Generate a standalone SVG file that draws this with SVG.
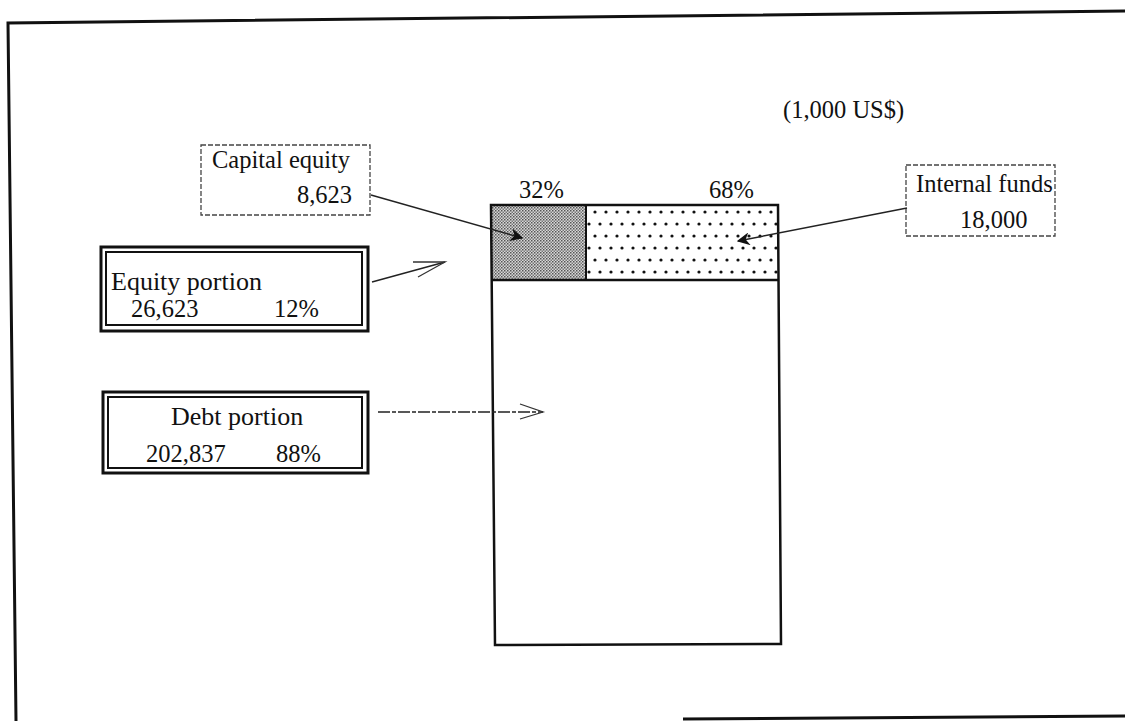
<svg xmlns="http://www.w3.org/2000/svg" width="1125" height="721" viewBox="0 0 1125 721">
  <style>
    text { font-family: "Liberation Serif", "Times New Roman", serif; fill: #111; }
    .t24 { font-size: 24.5px; }
    .t25 { font-size: 26px; }
    .frame { fill: none; stroke: #111; stroke-width: 3; }
    .dbox { fill: #fff; stroke: #444; stroke-width: 1.3; stroke-dasharray: 5 2; }
    .outer { fill: #fff; stroke: #111; stroke-width: 3; }
    .inner { fill: none; stroke: #111; stroke-width: 2; }
    .conn { fill: none; stroke: #222; stroke-width: 1.4; }
    .openhead { fill: none; stroke: #333; stroke-width: 1.3; }
  </style>
  <defs>
    <pattern id="dense" width="3" height="3" patternUnits="userSpaceOnUse">
      <rect width="3" height="3" fill="#d8d8d8"/>
      <rect x="0" y="0" width="1.5" height="1.5" fill="#555"/>
      <rect x="1.5" y="1.5" width="1.5" height="1.5" fill="#777"/>
    </pattern>
    <pattern id="dots" x="591" y="208" width="22" height="24" patternUnits="userSpaceOnUse">
      <rect width="22" height="24" fill="#fff"/>
      <circle cx="4" cy="4" r="1.6" fill="#111"/>
      <circle cx="15" cy="4" r="1.6" fill="#111"/>
      <circle cx="9" cy="16" r="1.6" fill="#111"/>
      <circle cx="20" cy="16" r="1.6" fill="#111"/>
    </pattern>
    <marker id="solid" viewBox="0 0 10 10" refX="9" refY="5" markerWidth="13" markerHeight="13" markerUnits="userSpaceOnUse" orient="auto">
      <path d="M0,0 L10,5 L0,10 L3,5 Z" fill="#111"/>
    </marker>
  </defs>

  <!-- outer frame -->
  <g id="frame">
    <polyline class="frame" points="16,721 8,23 1125,11"/>
    <line class="frame" x1="683" y1="719" x2="1125" y2="716"/>
  </g>

  <!-- main bar -->
  <g id="bar">
    <rect x="491" y="205" width="95" height="75" fill="url(#dense)"/>
    <rect x="586" y="205" width="192" height="75" fill="url(#dots)"/>
    <path d="M491,205 L778,205 L781,644 L495,645 Z" fill="none" stroke="#111" stroke-width="2.5"/>
    <line x1="491" y1="280" x2="779" y2="280" stroke="#111" stroke-width="2.5"/>
    <line x1="586" y1="205" x2="586" y2="280" stroke="#111" stroke-width="2"/>
    <text class="t24" x="519" y="198">32%</text>
    <text class="t24" x="709" y="198">68%</text>
  </g>

  <g id="unit">
    <text class="t24" x="783" y="118">(1,000 US$)</text>
  </g>

  <g id="capital-equity">
    <rect class="dbox" x="201" y="145" width="169" height="70"/>
    <text class="t24" x="212" y="168">Capital equity</text>
    <text class="t24" x="352" y="203" text-anchor="end">8,623</text>
  </g>

  <g id="internal-funds">
    <rect class="dbox" x="906" y="165" width="149" height="71"/>
    <text class="t24" x="916" y="192">Internal funds</text>
    <text class="t24" x="960" y="228">18,000</text>
  </g>

  <g id="equity-portion">
    <rect class="outer" x="101" y="247" width="267" height="84"/>
    <rect class="inner" x="106" y="252" width="256" height="73"/>
    <text class="t25" x="111" y="290">Equity portion</text>
    <text class="t24" x="131" y="317">26,623</text>
    <text class="t24" x="274" y="317">12%</text>
  </g>

  <g id="debt-portion">
    <rect class="outer" x="103" y="392" width="265" height="81"/>
    <rect class="inner" x="108" y="397" width="254" height="71"/>
    <text class="t25" x="171" y="425">Debt portion</text>
    <text class="t24" x="146" y="462">202,837</text>
    <text class="t24" x="276" y="462">88%</text>
  </g>

  <g id="connectors">
    <line class="conn" x1="371" y1="195" x2="522" y2="238" marker-end="url(#solid)"/>
    <line class="conn" x1="907" y1="208" x2="738" y2="241" marker-end="url(#solid)"/>
    <line class="conn" x1="372" y1="282" x2="445" y2="262"/>
    <polyline class="openhead" points="413,262 445,262 418,277"/>
    <line class="conn" x1="378" y1="412" x2="543" y2="412" stroke-dasharray="12 2 4 2"/>
    <polyline class="openhead" points="520,404 543,412 520,419"/>
  </g>
</svg>
